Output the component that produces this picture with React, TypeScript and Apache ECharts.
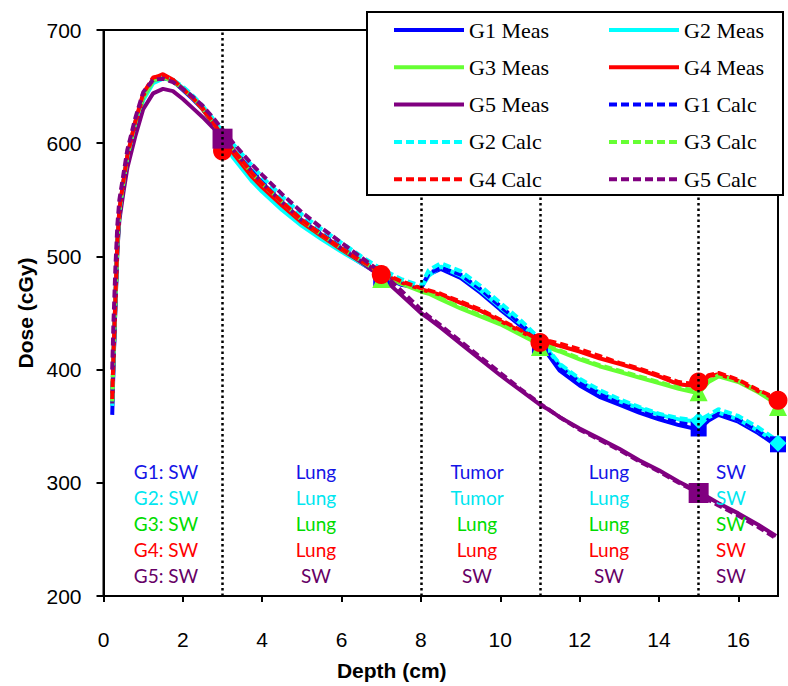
import React, { useEffect, useRef } from "react";
import * as echarts from "echarts";

// ---- data ----
const depths = [0.22, 0.25, 0.3, 0.35, 0.4, 0.5, 0.6, 0.8, 1.0, 1.25, 1.5, 1.75, 2.0, 2.25, 2.5, 2.75, 3.0,
  3.25, 3.5, 3.75, 4.0, 4.5, 5.0, 5.5, 6.0, 6.5, 7.0, 7.5, 8.0,
  8.2, 8.5, 9.0, 9.5, 10.0, 10.5, 11.0,
  11.25, 11.5, 12.0, 12.5, 13.0, 13.5, 14.0, 14.5,
  15.0, 15.25, 15.5, 16.0, 16.5, 16.95];

const g1Meas = [360, 400, 458, 510, 538, 563, 586, 616, 641, 656, 659, 655, 647, 639, 630, 618, 605,
  594, 583, 572, 563, 546, 529, 517, 505, 494, 483, 475, 472,
  484, 489, 481, 468, 453, 439, 424,
  411, 399, 386, 376, 369, 362, 356, 351,
  347, 355, 360, 354, 344, 333];
const g2Meas = [368, 405, 455, 505, 535, 560, 583, 613, 638, 653, 657, 656, 649, 641, 631, 617, 602,
  588, 577, 566, 557, 541, 527, 515, 504, 494, 484, 476, 472,
  483, 491, 483, 470, 455, 441, 426,
  415, 404, 390, 380, 372, 366, 360, 356,
  354, 358, 362, 356, 346, 336];
const g3Meas = [375, 410, 460, 508, 537, 562, 585, 615, 640, 655, 658, 655, 648, 640, 630, 618, 605,
  593, 582, 571, 562, 546, 530, 518, 506, 495, 484, 476, 469,
  467, 462, 454, 447, 440, 431, 422,
  419, 416, 409, 403, 398, 393, 388, 383,
  379, 389, 394, 389, 380, 370];
const g4Meas = [372, 408, 460, 510, 540, 564, 587, 617, 642, 657, 661, 656, 648, 640, 630, 618, 604,
  592, 581, 570, 561, 545, 530, 518, 506, 495, 485, 477, 471,
  469, 466, 459, 452, 443, 434, 425,
  423, 421, 416, 410, 405, 400, 394, 387,
  385, 394, 396, 390, 381, 374];
const g5Meas = [370, 405, 455, 505, 532, 556, 578, 606, 630, 644, 648, 646, 639, 631, 623, 614, 606,
  595, 585, 575, 565, 548, 532, 519, 507, 495, 482, 466, 450,
  445, 437, 423, 409, 395, 382, 369,
  364, 358, 348, 339, 330, 320, 311, 301,
  292, 287, 282, 273, 263, 253];

const g1Calc = [372, 410, 462, 512, 540, 565, 588, 618, 642, 656, 658, 655, 648, 640, 631, 620, 608,
  597, 586, 576, 566, 549, 533, 520, 508, 497, 486, 478, 472,
  485, 490, 484, 471, 456, 441, 425,
  413, 402, 389, 379, 371, 364, 358, 353,
  350, 356, 361, 356, 346, 335];
const g2Calc = [372, 410, 462, 512, 540, 565, 588, 618, 642, 656, 658, 656, 650, 642, 633, 622, 610,
  600, 590, 580, 570, 553, 537, 524, 512, 500, 489, 480, 474,
  488, 494, 487, 474, 459, 444, 427,
  416, 405, 392, 382, 374, 367, 361, 357,
  355, 360, 365, 359, 349, 338];
const g3Calc = [372, 410, 462, 512, 540, 565, 588, 618, 642, 656, 658, 655, 648, 640, 631, 619, 606,
  595, 584, 573, 564, 548, 532, 519, 507, 496, 485, 477, 470,
  468, 463, 455, 448, 441, 432, 423,
  420, 417, 410, 404, 399, 394, 389, 384,
  381, 390, 395, 390, 381, 371];
const g4Calc = [374, 412, 464, 514, 542, 566, 589, 619, 644, 658, 660, 656, 648, 640, 631, 619, 606,
  595, 584, 573, 564, 548, 532, 519, 507, 496, 486, 478, 472,
  470, 467, 460, 453, 444, 435, 426,
  425, 423, 418, 412, 406, 401, 395, 389,
  387, 395, 397, 391, 382, 375];
const g5Calc = [400, 440, 490, 528, 550, 572, 594, 622, 645, 656, 657, 654, 648, 641, 633, 623, 612,
  601, 591, 581, 572, 555, 539, 525, 512, 499, 486, 470, 453,
  447, 439, 425, 411, 397, 383, 370,
  364, 358, 347, 338, 329, 319, 310, 300,
  291, 285, 280, 271, 261, 251];

// point measurements
const g1Points = [[7, 481], [11, 421], [15, 348], [17, 334]];
const g2Points = [[7, 481], [11, 421], [15, 355], [17, 335]];
const g3Points = [[7, 480], [11, 420], [15, 380], [17, 367]];
const g4Points = [[3, 593], [7, 484], [11, 424], [15, 389], [17, 373]];
const g5Points = [[3, 604], [15, 291]];

const boundaries = [3, 8, 11, 15];
const xTicks = [0, 2, 4, 6, 8, 10, 12, 14, 16];

const regionLabels = [
  ["G1: SW", "Lung", "Tumor", "Lung", "SW"],
  ["G2: SW", "Lung", "Tumor", "Lung", "SW"],
  ["G3: SW", "Lung", "Lung", "Lung", "SW"],
  ["G4: SW", "Lung", "Lung", "Lung", "SW"],
  ["G5: SW", "SW", "SW", "SW", "SW"],
];

const legendLeft = ["G1 Meas", "G3 Meas", "G5 Meas", "G2 Calc", "G4 Calc"];
const legendRight = ["G2 Meas", "G4 Meas", "G1 Calc", "G3 Calc", "G5 Calc"];

// ---- styles ----
const lineColors = ["#0000ff", "#00ffff", "#66ff33", "#ff0000", "#800080"];
const textColors = ["#1414e6", "#00e6f0", "#00dc00", "#ff0000", "#660066"];
const colX = [166, 316, 477, 609, 731];
const rowY = [471, 497, 523, 549, 575];
const axisFont = "'Liberation Sans', Arial, sans-serif";

export default function App() {
  const ref = useRef<HTMLDivElement>(null);
  useEffect(() => {
    document.body.style.margin = "0";
    if (!ref.current) return;
    const chart = echarts.init(ref.current, undefined, { renderer: "svg" });
    const zip = (vals: number[]) => depths.map((d, i) => [d, vals[i]]);
    const meas = [g1Meas, g2Meas, g3Meas, g4Meas, g5Meas];
    const calc = [g1Calc, g2Calc, g3Calc, g4Calc, g5Calc];
    const pts = [g1Points, g2Points, g3Points, g4Points, g5Points];
    const syms = ["rect", "diamond", "triangle", "circle", "rect"];
    const symSizes = [16, 17, 18, 19, 20];

    const series: any[] = [];
    meas.forEach((v, i) => {
      series.push({
        name: `G${i + 1} Meas`, type: "line", data: zip(v), symbol: "none", z: 2,
        lineStyle: { color: lineColors[i], width: 4 }, itemStyle: { color: lineColors[i], opacity: 0 },
      });
    });
    calc.forEach((v, i) => {
      series.push({
        name: `G${i + 1} Calc`, type: "line", data: zip(v), symbol: "none", z: 3,
        lineStyle: { color: lineColors[i], width: 4, type: [8, 4] }, itemStyle: { color: lineColors[i], opacity: 0 },
      });
    });
    pts.forEach((p, i) => {
      series.push({
        name: `G${i + 1} Point`, type: "scatter", data: p, symbol: syms[i], symbolSize: symSizes[i], z: 4,
        itemStyle: { color: lineColors[i], opacity: 1 },
      });
    });
    series.push({
      name: "boundaries", type: "line", data: [], z: 5, silent: true,
      markLine: {
        silent: true, symbol: ["none", "none"], label: { show: false },
        lineStyle: { color: "#000", type: [2.5, 3], width: 2.5 },
        data: boundaries.map((b) => ({ xAxis: b })),
      },
    });

    const texts: any[] = [];
    regionLabels.forEach((row, r) => {
      row.forEach((t, c) => {
        texts.push({
          type: "text", x: colX[c], y: rowY[r], z: 8,
          style: { text: t, fill: textColors[r], fontFamily: "Lato", fontSize: 19, align: "center", verticalAlign: "middle" },
        });
      });
    });

    const legendBase = {
      orient: "vertical", top: 19, padding: 0, itemWidth: 70, itemHeight: 14, itemGap: 15.3,
      selectedMode: false, z: 20,
      itemStyle: { opacity: 0 },
      lineStyle: { width: 4 },
      textStyle: { fontFamily: "Liberation Serif", fontSize: 22, color: "#000", lineHeight: 22 },
    };

    chart.setOption({
      animation: false,
      backgroundColor: "#fff",
      grid: { left: 103.5, right: 10, top: 30, bottom: 89, show: true, borderColor: "#000", borderWidth: 2, containLabel: false },
      xAxis: {
        type: "value", min: 0, max: 17, interval: 2,
        axisLine: { show: true, lineStyle: { color: "#000", width: 2 } },
        axisTick: { show: true, length: 6, lineStyle: { color: "#000", width: 2 }, customValues: xTicks },
        axisLabel: { color: "#000", fontFamily: axisFont, fontSize: 21, margin: 33, customValues: xTicks },
        splitLine: { show: false },
        name: "Depth (cm)", nameLocation: "middle", nameGap: 64,
        nameTextStyle: { color: "#000", fontFamily: axisFont, fontSize: 21, fontWeight: "bold", padding: [0, 98, 0, 0] },
      },
      yAxis: {
        type: "value", min: 200, max: 700, interval: 100,
        axisLine: { show: true, lineStyle: { color: "#000", width: 2 } },
        axisTick: { show: true, length: 7, lineStyle: { color: "#000", width: 2 } },
        axisLabel: { color: "#000", fontFamily: axisFont, fontSize: 21, margin: 22 },
        splitLine: { show: false },
        name: "Dose (cGy)", nameLocation: "middle", nameGap: 64, nameRotate: 90,
        nameTextStyle: { color: "#000", fontFamily: axisFont, fontSize: 21, fontWeight: "bold" },
      },
      legend: [
        { ...legendBase, left: 392, data: legendLeft },
        { ...legendBase, left: 607, data: legendRight },
      ],
      graphic: [
        {
          type: "rect", z: 15, shape: { x: 367, y: 12, width: 416, height: 183 },
          style: { fill: "#fff", stroke: "#000", lineWidth: 2 },
        },
        ...texts,
      ],
      series,
    });
    return () => chart.dispose();
  }, []);
  return <div ref={ref} style={{ width: 788, height: 686 }} />;
}
